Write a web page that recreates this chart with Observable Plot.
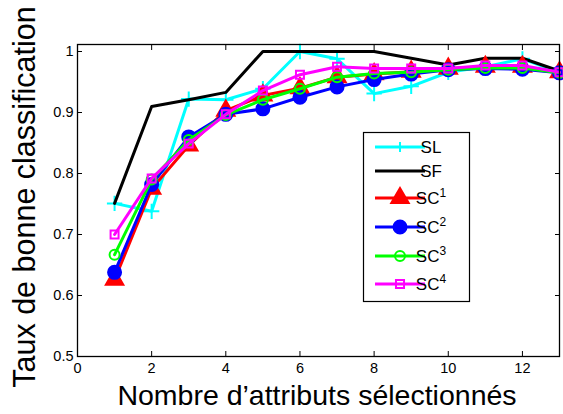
<!DOCTYPE html>
<html><head><meta charset="utf-8">
<script src="https://cdn.jsdelivr.net/npm/d3@7"></script>
<script src="https://cdn.jsdelivr.net/npm/@observablehq/plot@0.6"></script>
<style>
html,body{margin:0;padding:0;background:#fff;}
svg text{font-family:"Liberation Sans",Arial,sans-serif;}
</style>
</head><body><div id="chart"></div>
<script>
const xs = [1,2,3,4,5,6,7,8,9,10,11,12,13];
const SL  = [0.751,0.738,0.922,0.921,0.939,1.000,0.988,0.931,0.943,0.966,0.975,0.988,0.966];
const SF  = [0.751,0.910,0.921,0.933,1.000,1.000,1.000,1.000,0.989,0.978,0.989,0.989,0.968];
const SC1 = [0.626,0.775,0.846,0.903,0.928,0.940,0.958,0.963,0.967,0.972,0.975,0.975,0.966];
const SC2 = [0.638,0.782,0.860,0.897,0.906,0.925,0.942,0.954,0.963,0.970,0.972,0.971,0.965];
const SC3 = [0.667,0.790,0.855,0.896,0.921,0.939,0.958,0.964,0.966,0.970,0.973,0.973,0.965];
const SC4 = [0.700,0.792,0.849,0.897,0.936,0.962,0.975,0.972,0.972,0.972,0.977,0.977,0.966];
const xTicks = [0,2,4,6,8,10,12];
const yTicks = [0.5,0.6,0.7,0.8,0.9,1];
const yTickLabels = ["0.5","0.6","0.7","0.8","0.9","1"];

const series = [
  {name:"SL", sup:"", vals:SL, color:"#00ffff", symbol:"plus", fill:false, r:5},
  {name:"SF", sup:"", vals:SF, color:"#000000", symbol:null},
  {name:"SC", sup:"1", vals:SC1, color:"#ff0000", symbol:"triangle", fill:true, r:6.5},
  {name:"SC", sup:"2", vals:SC2, color:"#0000ff", symbol:"circle", fill:true, r:6.5},
  {name:"SC", sup:"3", vals:SC3, color:"#00ff00", symbol:"circle", fill:false, r:5},
  {name:"SC", sup:"4", vals:SC4, color:"#ff00ff", symbol:"square", fill:false, r:4.5},
];

const marks = [];
for (const s of series) {
  const data = xs.map((x,i)=>({x, y:s.vals[i]}));
  marks.push(Plot.line(data,{x:"x",y:"y",stroke:s.color,strokeWidth:3}));
  if (s.symbol) {
    marks.push(Plot.dot(data,{x:"x",y:"y",symbol:s.symbol,r:s.r,
      stroke:s.color, strokeWidth:2, fill: s.fill ? s.color : "none"}));
  }
}

const plot = Plot.plot({
  width:563, height:414,
  marginLeft:77, marginRight:4, marginTop:44, marginBottom:58,
  style:{fontFamily:"Liberation Sans, Arial, sans-serif", fontSize:"14px", color:"#000", background:"#fff"},
  x:{domain:[0,13]},
  y:{domain:[0.5,1.0115]},
  marks:[
    Plot.axisX(xTicks,{anchor:"bottom", tickSize:-5, tickPadding:11, fontSize:14.5, label:null}),
    Plot.axisX(xTicks,{anchor:"top", tickSize:-5, text:null, label:null}),
    Plot.axisY(yTicks,{anchor:"left", tickSize:-5, tickPadding:9, fontSize:14.5, label:null,
      tickFormat:(d)=>yTickLabels[yTicks.indexOf(d)]}),
    Plot.axisY(yTicks,{anchor:"right", tickSize:-5, text:null, label:null}),
    ...marks,
    Plot.frame({stroke:"#000", strokeWidth:1.3})
  ]
});

const svg = d3.select(plot);
svg.attr("overflow","visible");
// axis titles
svg.append("text").attr("x",317).attr("y",405).attr("text-anchor","middle")
  .attr("font-size",28.5).attr("fill","#000").text("Nombre d\u2019attributs sélectionnés");
svg.append("text").attr("transform","translate(35,197) rotate(-90)").attr("text-anchor","middle")
  .attr("font-size",30.5).attr("fill","#000").text("Taux de bonne classification");

// legend
const lg = svg.append("g");
lg.append("rect").attr("x",363.5).attr("y",132.5).attr("width",106).attr("height",169)
  .attr("fill","#fff").attr("stroke","#000").attr("stroke-width",1.2);
const rows = [147,171,198,227,256,284];
const sym = {plus:d3.symbolPlus||d3.symbolCross, triangle:d3.symbolTriangle, circle:d3.symbolCircle, square:d3.symbolSquare};
series.forEach((s,i)=>{
  const y = rows[i];
  lg.append("line").attr("x1",375).attr("x2",425).attr("y1",y).attr("y2",y)
    .attr("stroke",s.color).attr("stroke-width",3);
  if (s.symbol==="plus") {
    lg.append("path").attr("d",`M400,${y-5}V${y+5}M395,${y}H405`).attr("stroke",s.color).attr("stroke-width",2);
  } else if (s.symbol) {
    const area = Math.PI*s.r*s.r;
    const gen = d3.symbol().type(sym[s.symbol]).size(s.symbol==="square"? (2*s.r)*(2*s.r)*0.8 : area);
    lg.append("path").attr("d",gen()).attr("transform",`translate(400,${y})`)
      .attr("fill", s.fill ? s.color : "none").attr("stroke",s.color).attr("stroke-width",2);
  }
  const t = lg.append("text").attr("x",431).attr("y",y+6).attr("font-size",17).attr("fill","#000");
  t.append("tspan").text(s.name);
  if (s.sup) t.append("tspan").attr("dy",-7).attr("font-size",12).text(s.sup);
});

document.getElementById("chart").appendChild(plot);
</script>
</body></html>
